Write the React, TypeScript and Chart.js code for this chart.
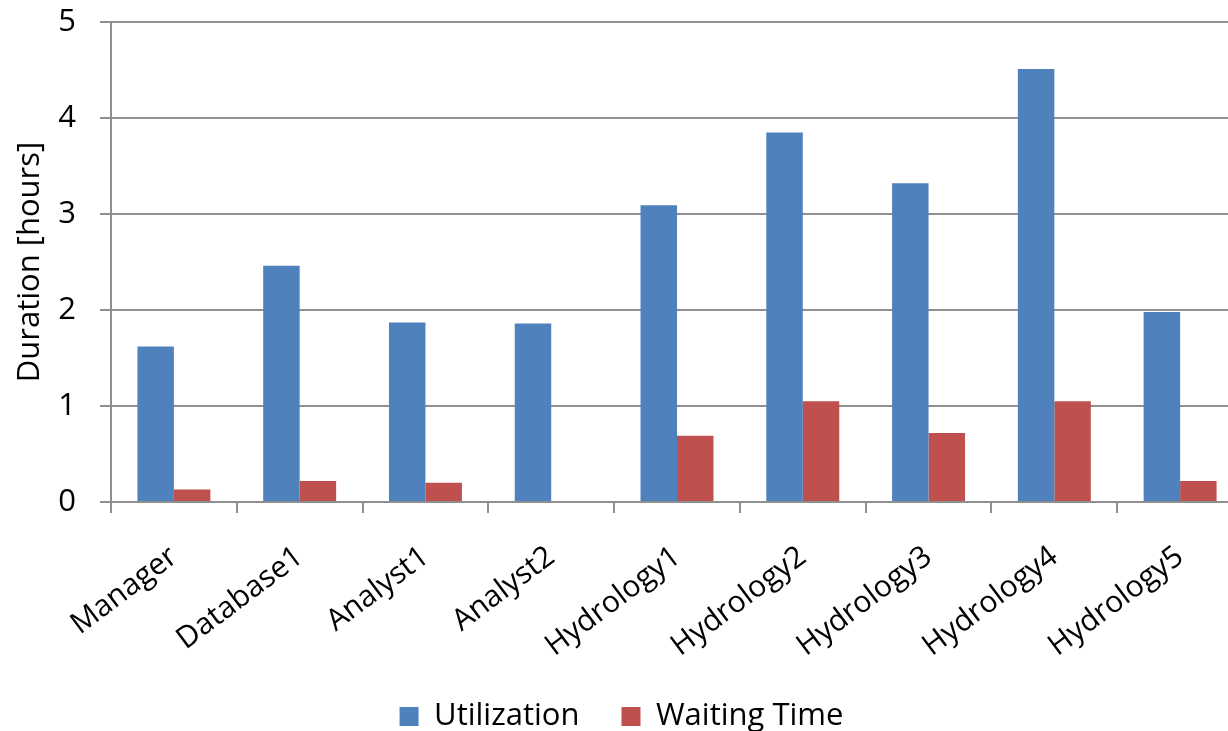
import React, { useEffect, useRef } from "react";
import { Chart, registerables } from "chart.js";

Chart.register(...registerables);

const categories = [
  "Manager",
  "Database1",
  "Analyst1",
  "Analyst2",
  "Hydrology1",
  "Hydrology2",
  "Hydrology3",
  "Hydrology4",
  "Hydrology5",
];
const utilization = [1.62, 2.46, 1.87, 1.86, 3.09, 3.85, 3.32, 4.51, 1.98];
const waitingTime = [0.13, 0.22, 0.2, 0, 0.69, 1.05, 0.72, 1.05, 0.22];
const seriesNames = ["Utilization", "Waiting Time"];
const yTitle = "Duration [hours]";

const FONT = "'Open Sans', sans-serif";
const GRID = "#8f8f8f";

export default function App() {
  const ref = useRef<HTMLCanvasElement | null>(null);

  useEffect(() => {
    if (!ref.current) return;
    const chart = new Chart(ref.current, {
      type: "bar",
      data: {
        labels: categories,
        datasets: [
          {
            label: seriesNames[0],
            data: utilization,
            backgroundColor: "#4F81BD",
            categoryPercentage: 0.58,
            barPercentage: 1,
          },
          {
            label: seriesNames[1],
            data: waitingTime,
            backgroundColor: "#C0504D",
            categoryPercentage: 0.58,
            barPercentage: 1,
          },
        ],
      },
      options: {
        responsive: false,
        animation: false,
        layout: { padding: { top: 22, left: 0, right: 0, bottom: 0 } },
        plugins: {
          tooltip: { enabled: false },
          legend: {
            position: "bottom",
            labels: {
              font: { family: FONT, size: 31 },
              color: "#000",
              boxWidth: 19,
              boxHeight: 19,
              padding: 42,
            },
          },
        },
        scales: {
          x: {
            afterFit: (scale: any) => {
              scale.height = 157;
              scale.paddingLeft = 0;
              scale.paddingRight = 0;
            },
            grid: {
              offset: true,
              drawOnChartArea: false,
              drawTicks: true,
              tickLength: 11,
              color: GRID,
              lineWidth: 2,
            },
            border: { color: GRID, width: 2 },
            ticks: {
              font: { family: FONT, size: 30 },
              color: "#000",
              maxRotation: 37,
              minRotation: 37,
              padding: 26,
              autoSkip: false,
            },
          },
          y: {
            min: 0,
            max: 5,
            afterFit: (scale: any) => {
              scale.width = 111;
              scale.paddingTop = 0;
              scale.paddingBottom = 0;
            },
            grid: {
              color: GRID,
              lineWidth: 2,
              tickLength: 11,
            },
            border: { color: GRID, width: 2 },
            ticks: {
              stepSize: 1,
              font: { family: FONT, size: 31 },
              color: "#000",
              padding: 24,
            },
            title: {
              display: true,
              text: yTitle,
              font: { family: FONT, size: 31 },
              color: "#000",
              padding: { top: 12, bottom: 0 },
            },
          },
        },
      },
    });
    return () => chart.destroy();
  }, []);

  return (
    <div
      style={{
        position: "fixed",
        left: 0,
        top: 0,
        width: 1228,
        height: 731,
        overflow: "hidden",
        background: "#fff",
      }}
    >
      <canvas ref={ref} width={1243} height={742} style={{ display: "block" }} />
    </div>
  );
}
